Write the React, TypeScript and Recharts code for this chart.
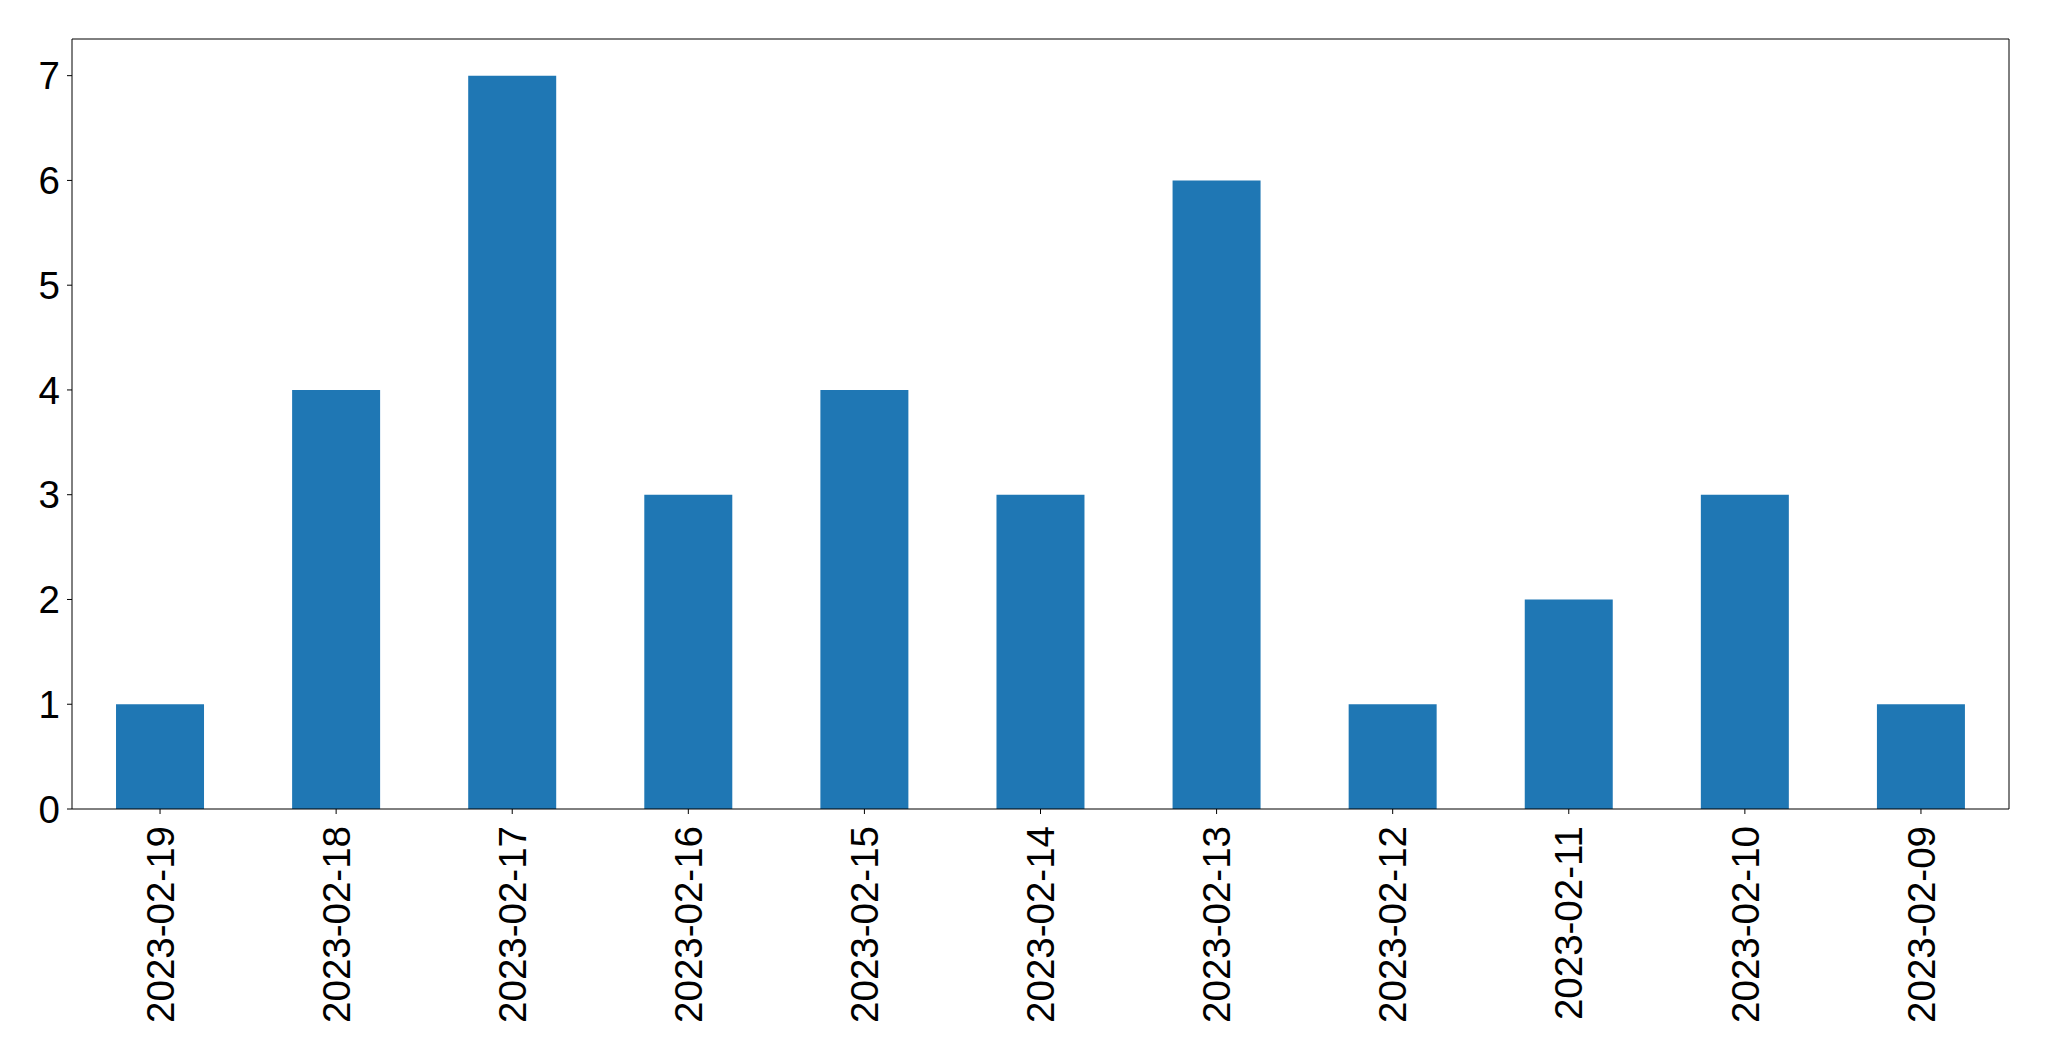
import { Bar, BarChart, XAxis, YAxis } from "recharts"

const dates = [
	"2023-02-19",
	"2023-02-18",
	"2023-02-17",
	"2023-02-16",
	"2023-02-15",
	"2023-02-14",
	"2023-02-13",
	"2023-02-12",
	"2023-02-11",
	"2023-02-10",
	"2023-02-09",
]
const counts = [1, 4, 7, 3, 4, 3, 6, 1, 2, 3, 1]
const yTicks = [0, 1, 2, 3, 4, 5, 6, 7]

const data = dates.map((date, i) => ({ date, count: counts[i] }))

const FONT = "'Liberation Sans', Arial, sans-serif"
const FONT_SIZE = 38.5

function DateTick(props: any) {
	const { x, y, payload } = props
	return (
		<g transform={`translate(${x},${y + 10})`}>
			<text
				transform="rotate(-90)"
				textAnchor="end"
				dy="0.355em"
				fill="#000"
				fontFamily={FONT}
				fontSize={FONT_SIZE}
			>
				{payload.value}
			</text>
		</g>
	)
}

export default function App() {
	return (
		<div style={{ position: "absolute", left: 0, top: 0, background: "#fff" }}>
			<BarChart
				width={2049}
				height={1061}
				data={data}
				margin={{ top: 38, right: 39, left: 0, bottom: 0 }}
				barCategoryGap="25%"
			>
				<XAxis
					dataKey="date"
					height={252}
					interval={0}
					tick={<DateTick />}
					tickSize={5}
					tickLine={{ stroke: "#000", strokeWidth: 1 }}
					axisLine={{ stroke: "#000", strokeWidth: 1 }}
				/>
				{/* top and right axes only draw the frame */}
				<XAxis
					xAxisId="top"
					dataKey="date"
					orientation="top"
					height={1}
					tick={false}
					tickLine={false}
					axisLine={{ stroke: "#000", strokeWidth: 1 }}
				/>
				<YAxis
					width={72}
					domain={[0, 7.35]}
					ticks={yTicks}
					interval={0}
					allowDataOverflow
					tickSize={5}
					tickMargin={7}
					tick={{ fill: "#000", fontFamily: FONT, fontSize: FONT_SIZE }}
					tickLine={{ stroke: "#000", strokeWidth: 1 }}
					axisLine={{ stroke: "#000", strokeWidth: 1 }}
				/>
				<YAxis
					yAxisId="right"
					orientation="right"
					width={1}
					domain={[0, 7.35]}
					allowDataOverflow
					tick={false}
					tickLine={false}
					axisLine={{ stroke: "#000", strokeWidth: 1 }}
				/>
				<Bar dataKey="count" fill="#1f77b4" isAnimationActive={false} />
				<Bar
					dataKey="count"
					xAxisId="top"
					yAxisId="right"
					fill="none"
					stroke="none"
					isAnimationActive={false}
				/>
			</BarChart>
		</div>
	)
}
